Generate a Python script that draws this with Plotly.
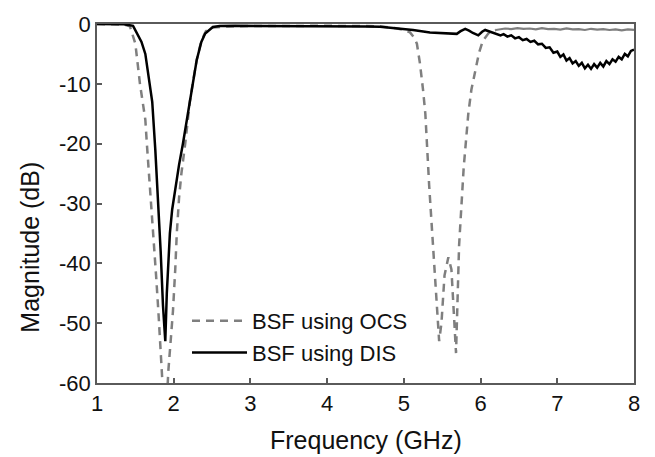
import plotly.graph_objects as go

# ---- data ----
ocs_freq = [1.0, 1.2, 1.35, 1.43, 1.50, 1.56, 1.63, 1.65, 1.69, 1.73, 1.77, 1.80, 1.83, 1.86, 1.88,
            1.91, 1.93, 1.96, 1.99, 2.02, 2.04, 2.07, 2.10, 2.15, 2.21, 2.26, 2.30, 2.36, 2.42, 2.50,
            2.70, 3.00, 3.50, 4.00, 4.50, 4.70, 4.90, 5.00, 5.08, 5.13, 5.17, 5.21, 5.25, 5.28, 5.33,
            5.38, 5.43, 5.46, 5.49, 5.53, 5.58, 5.62, 5.65, 5.68, 5.70, 5.72, 5.78, 5.84, 5.88, 5.93,
            5.98, 6.03, 6.10, 6.16, 6.20,
            6.25, 6.32, 6.40, 6.48, 6.56, 6.64, 6.72, 6.80, 6.88, 6.96, 7.04, 7.12, 7.20, 7.28, 7.36,
            7.44, 7.52, 7.60, 7.68, 7.76, 7.84, 7.92, 8.00]
ocs_mag = [0.0, 0.0, -0.1, -0.4, -3.3, -10, -16, -20, -27, -35, -42, -48, -54, -60, -66,
           -63, -58, -53, -48, -41, -35, -29, -25, -20, -13, -9, -6, -2.8, -1.2, -0.6,
           -0.4, -0.35, -0.3, -0.3, -0.35, -0.4, -0.7, -1.0, -1.4, -2.2, -3.3, -6.6, -11, -15, -27,
           -37.5, -46, -53, -50, -42, -39, -41, -48, -55, -46, -37, -24, -15, -11, -7.7,
           -4.8, -2.8, -1.6, -1.1, -1.0,
           -0.9, -0.75, -0.85, -0.7, -0.8, -0.75, -0.9, -0.7, -0.85, -0.8, -0.95, -0.75, -0.9, -0.85, -1.0,
           -0.8, -0.95, -0.85, -1.0, -0.9, -1.05, -0.9, -1.0]

dis_freq = [1.0, 1.2, 1.35, 1.47, 1.53, 1.58, 1.63, 1.67, 1.72, 1.76, 1.80, 1.83, 1.86, 1.89,
            1.91, 1.93, 1.95, 1.98, 2.02, 2.07, 2.12, 2.17, 2.21, 2.26, 2.30, 2.36, 2.41, 2.51,
            2.60, 2.80, 3.00,
            3.30, 3.60, 4.00, 4.30, 4.50, 4.69, 4.90, 5.12, 5.34, 5.55, 5.69, 5.74, 5.80, 5.85,
            5.90, 5.97, 6.02, 6.06, 6.12, 6.21,
            6.26, 6.30, 6.35, 6.40, 6.45, 6.50, 6.55, 6.60, 6.65, 6.70, 6.75, 6.80, 6.85, 6.90,
            6.95, 7.00, 7.04, 7.08, 7.12, 7.16, 7.20, 7.24, 7.28, 7.32, 7.36, 7.40, 7.44, 7.48,
            7.52, 7.56, 7.60, 7.64, 7.68, 7.72, 7.76, 7.80, 7.84, 7.88, 7.92, 7.96, 8.00]
dis_mag = [0.0, 0.0, -0.05, -0.3, -1.7, -3.0, -5.0, -8.8, -13, -21, -30, -38, -47, -53,
           -45, -39, -35, -31, -27.5, -23.5, -20, -16, -13, -9, -6, -3, -1.6, -0.5,
           -0.35, -0.3, -0.3,
           -0.3, -0.3, -0.3, -0.35, -0.4, -0.45, -0.7, -1.0, -1.4, -1.5, -1.65, -1.2, -0.8, -1.1,
           -1.5, -1.9, -1.3, -1.0, -1.3, -1.65,
           -1.9, -1.7, -2.1, -1.9, -2.4, -2.2, -2.7, -2.5, -3.0, -2.8, -3.4, -3.3, -4.0, -3.9,
           -4.8, -4.6, -5.5, -5.1, -6.1, -5.7, -6.6, -6.2, -7.0, -6.5, -7.4, -6.8, -7.5, -6.7,
           -7.3, -6.5, -7.1, -6.2, -6.7, -5.9, -6.3, -5.5, -5.9, -5.0, -5.4, -4.5, -4.3]

x_ticks = [1, 2, 3, 4, 5, 6, 7, 8]
y_ticks = [0, -10, -20, -30, -40, -50, -60]

FONT = "Liberation Sans, Arial, sans-serif"
GRAY = "#7f7f7f"
AXIS = "#5a5a5a"

# dashed part of OCS up to the second notch, solid-looking plateau afterwards
split = ocs_freq.index(6.20)

fig = go.Figure()
fig.add_trace(go.Scatter(x=ocs_freq[:split + 1], y=ocs_mag[:split + 1], mode="lines",
                         name="BSF using OCS",
                         line=dict(color=GRAY, width=2.5, dash="8px,6px")))
fig.add_trace(go.Scatter(x=ocs_freq[split:], y=ocs_mag[split:], mode="lines",
                         showlegend=False, line=dict(color=GRAY, width=2.2)))
fig.add_trace(go.Scatter(x=dis_freq, y=dis_mag, mode="lines", name="BSF using DIS",
                         line=dict(color="#000000", width=2.5)))

axis_common = dict(showline=True, linecolor=AXIS, linewidth=1.5, mirror=True,
                   ticks="inside", ticklen=5, tickwidth=1.5, tickcolor=AXIS,
                   showgrid=False, zeroline=False,
                   tickfont=dict(family=FONT, size=22, color="#111111"))

fig.update_xaxes(range=[1, 8], tickvals=x_ticks, ticktext=[str(v) for v in x_ticks], **axis_common)
fig.update_yaxes(range=[-60, 0], tickvals=y_ticks, ticktext=[str(v) for v in y_ticks], **axis_common)

fig.add_annotation(text="Frequency (GHz)", xref="paper", yref="paper", x=0.5, y=0,
                   yshift=-57, xanchor="center", yanchor="middle", showarrow=False,
                   font=dict(family=FONT, size=25, color="#111111"))
fig.add_annotation(text="Magnitude (dB)", xref="paper", yref="paper", x=0, y=0.377,
                   xshift=-67, xanchor="center", yanchor="middle", textangle=-90,
                   showarrow=False, font=dict(family=FONT, size=25, color="#111111"))

fig.update_layout(
    width=655, height=457,
    margin=dict(l=97, r=21, t=20, b=74),
    paper_bgcolor="white", plot_bgcolor="white",
    legend=dict(x=0.1676, y=0.231, xanchor="left", yanchor="top",
                bgcolor="rgba(0,0,0,0)", borderwidth=0, itemwidth=55,
                font=dict(family=FONT, size=22, color="#111111"),
                tracegroupgap=0),
)

fig.write_html("out.html")
